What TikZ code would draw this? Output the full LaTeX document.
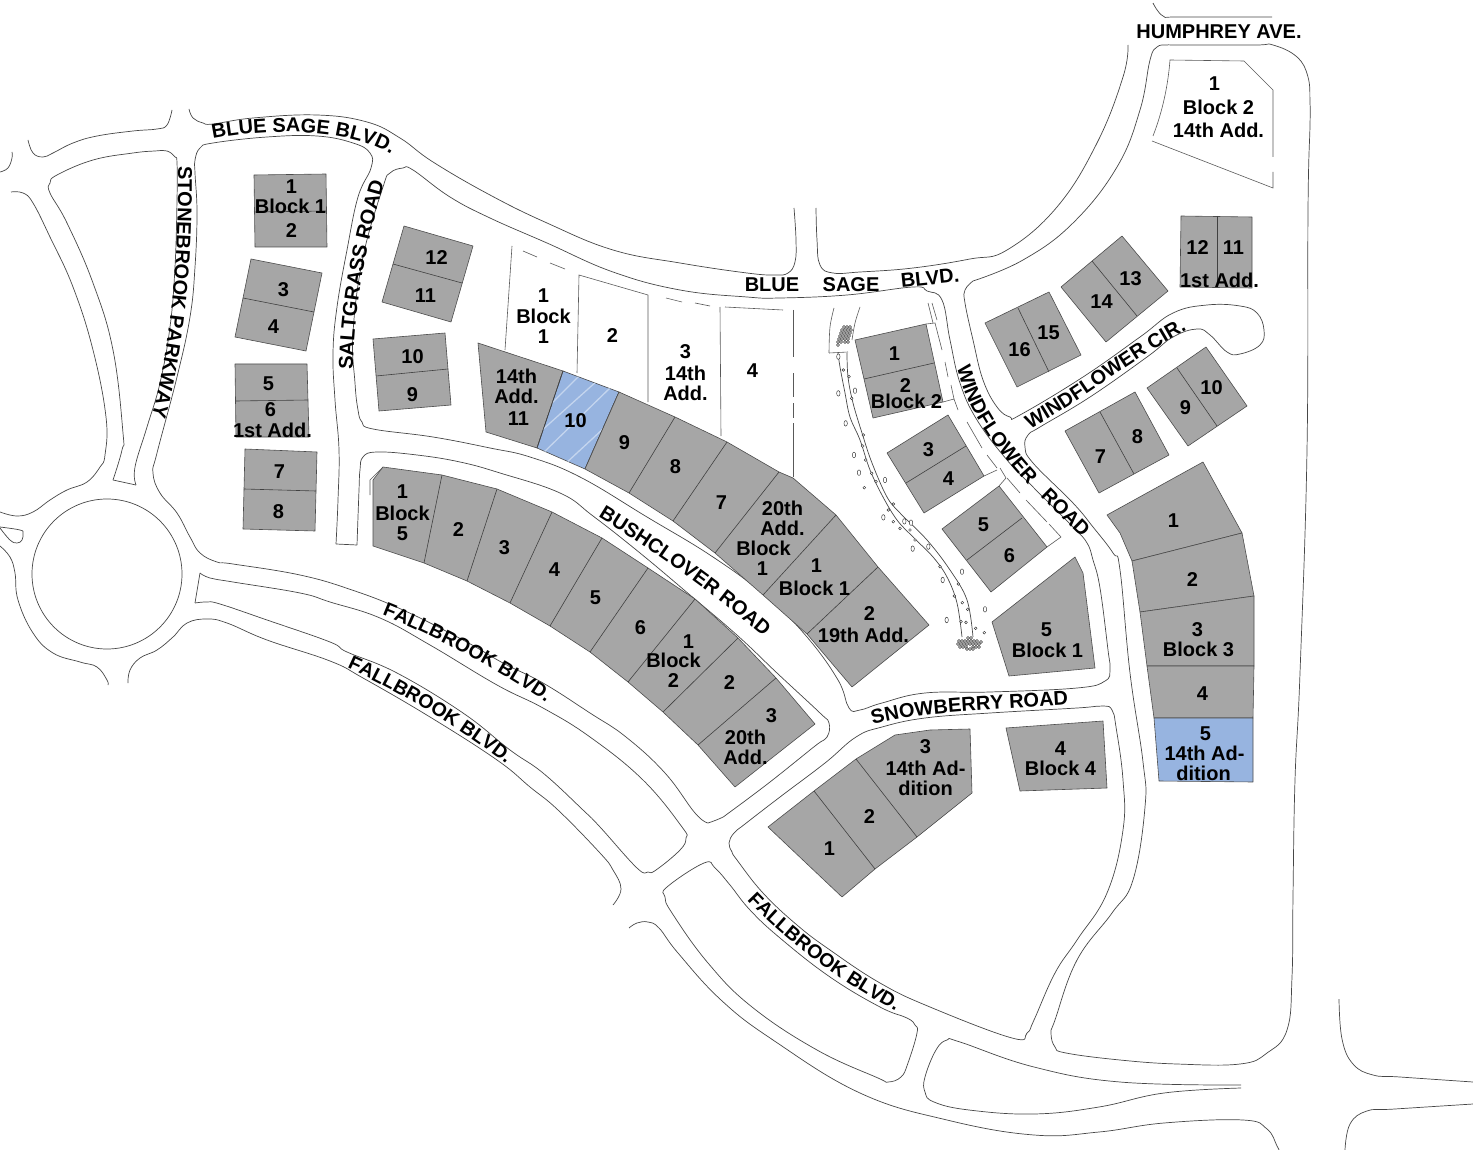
\documentclass[tikz,border=0pt]{standalone}
\usepackage{fontspec}
\setmainfont{Liberation Sans}
\usetikzlibrary{decorations.text}
\definecolor{lotgray}{HTML}{A6A6A6}
\definecolor{lotblue}{HTML}{97B4E0}
\definecolor{hatchblue}{HTML}{C4D5EE}
\newcounter{lb}
\tikzset{
  road/.style={draw=black!72,line width=0.7pt,line join=round},
  lotfill/.style={fill=lotgray,draw=black!70,line width=0.6pt,line join=round},
  bluefill/.style={fill=lotblue,draw=black!70,line width=0.6pt,line join=round},
  divider/.style={draw=black!75,line width=0.6pt},
  thinline/.style={draw=black!65,line width=0.6pt},
  lbl/.style={font=\bfseries\fontsize{20}{20.8}\selectfont,align=center,inner sep=0pt,text=black,yshift=-1pt,xshift=.5pt},
  rdlbl/.style={font=\bfseries\fontsize{20}{20}\selectfont,inner sep=0pt,text=black},
  pebble/.style={draw=black!80,line width=0.45pt,fill=white}
}
\newcommand\rd[1]{\draw[road] plot[smooth,tension=.7] coordinates {#1};}
\newcommand\lab[2]{\stepcounter{lb}\node[lbl] (lb\arabic{lb}) at (#1) {#2};}
\newcommand\rdtext[3]{\path[decorate,decoration={text along path,text={|\bfseries\fontsize{#1}{#1}\selectfont|#2}}] #3;}
\begin{document}
\begin{tikzpicture}[x=1pt,y=-1pt]
\useasboundingbox (0,0) rectangle (1473,1150);
% ---------- roads
\rd{(12,152)(12,158)(8,168)(0,172)}
\rd{(28,140)(33,153)(43,157)(53,153)(73,143)(97,136)(133,131)(157,129)(167,125)(172,110)}
\rd{(189,109)(193,118)(203,123)(213,124)(253,118)(317,115)(367,122)(400,138)(433,162)(490,195)(547,223)(613,250)(680,263)(747,273)(775,275)(788,273)(795,262)(796,240)(794,208)}
\rd{(816,208)(817,240)(820,265)(833,273)(860,272)(913,268)(970,259)(1007,250)(1057,207)(1097,143)(1123,77)(1128,45)}
\rd{(1153,3)(1163,16)(1180,17)(1272,17)}
% Stonebrook west block
\rd{(136,485)(135,467)(147,427)(160,383)(170,327)(175,267)(177,200)(177,163)(175,157)(167,151)(155,151)(133,153)(93,160)(57,175)(50,183)(50,193)(67,223)(93,283)(113,350)(123,433)(122,450)(113,480)}
\draw[road] (113,480) -- (136,485);
\rd{(11,192)(23,193)(33,203)(50,237)(73,287)(93,350)(106,417)(105,455)(100,467)(87,482)(67,490)(50,500)(33,512)(17,516)(0,512)}
\rd{(0,527)(20,530)(23,533)(22,540)(17,543)(10,540)(0,528)}
\rd{(0,546)(10,557)(15,573)(18,600)(33,633)(53,653)(80,662)(97,667)(107,680)(108,685)}
\draw[road] (107,574) circle [radius=75];
\rd{(128,683)(130,670)(140,658)(157,650)(173,637)(187,623)(207,619)(227,623)(267,640)(330,661)(363,678)(430,717)(497,760)(530,787)(558,810)(600,853)(613,870)(621,889)(613,905)}
% Main west: Fallbrook top, Stonebrook east, Blue Sage south, Saltgrass west
\rd{(708,823)(695,813)(665,773)(626,737)(590,713)(543,683)(503,663)(463,640)(403,610)(352,590)(300,575)(233,564)(217,562)(200,553)(190,537)(177,513)(160,493)(153,473)(157,453)(177,377)(190,317)(195,267)(197,213)(195,173)(195,160)(200,148)(213,143)(267,137)(317,136)(353,143)(370,153)(371,168)(358,197)(347,250)(337,307)(333,353)(335,400)(339,450)(338,500)(336,544)}
\draw[road] (336,544) -- (357,545);
\rd{(357,545)(359,490)(360,470)(363,457)(377,452)(417,455)(460,462)(500,473)(560,493)(593,516)(640,553)(690,595)(738,636)(777,673)(820,713)(829,723)(827,737)(815,746)(770,782)(730,812)(721,818)(708,823)}
% Fallbrook island
\draw[road] (195,603) -- (200,573);
\rd{(200,573)(210,578)(233,582)(300,593)(330,602)(380,618)(430,645)(497,685)(543,708)(590,737)(643,780)(682,827)(686,838)(680,850)(656,870)(648,872)(637,868)(600,827)(583,810)(543,773)(510,750)(463,713)(397,673)(347,652)(330,642)(267,620)(220,604)(207,602)(195,603)}
% Big central block
\draw[road] plot[smooth cycle,tension=.7] coordinates {(383,187)(363,257)(353,333)(355,383)(358,410)(362,422)(373,429)(433,437)(490,448)(530,457)(580,477)(647,517)(713,557)(767,597)(807,637)(838,680)(849,708)(860,710)(882,703)(925,693)(990,692)(1077,688)(1105,681)(1110,669)(1108,650)(1100,588)(1093,560)(1087,543)(1073,527)(1033,487)(1007,460)(977,420)(960,383)(950,340)(942,300)(927,291)(913,287)(847,295)(780,298)(747,297)(680,290)(613,272)(547,243)(490,218)(450,197)(413,170)(403,168)(390,173)};
% Snowberry south block
\draw[road] plot[smooth cycle,tension=.7] coordinates {(1116,727)(1112,710)(1103,706)(1077,708)(990,713)(925,718)(882,727)(856,737)(825,763)(780,797)(745,824)(734,833)(729,843)(732,852)(737,860)(763,893)(797,925)(830,950)(880,983)(930,1007)(1012,1038)(1027,1033)(1034,1020)(1055,973)(1077,940)(1107,893)(1123,830)(1123,780)};
% Fallbrook south island
\draw[road] plot[smooth cycle,tension=.7] coordinates {(704,863)(715,868)(730,885)(750,910)(780,938)(830,977)(880,1007)(907,1018)(915,1025)(917,1033)(908,1063)(901,1077)(888,1082)(878,1078)(817,1050)(752,1007)(708,963)(672,913)(665,897)(667,887)};
\rd{(629,928)(637,923)(648,922)(659,928)(678,953)(721,1000)(773,1040)(860,1093)(947,1120)(1034,1135)(1099,1132)(1164,1123)(1243,1120)(1267,1129)(1277,1146)(1279,1150)}
\rd{(1241,1085)(1120,1082)(1034,1067)(960,1042)(947,1040)(936,1050)(925,1077)(925,1092)(934,1102)(969,1110)(1034,1114)(1099,1107)(1164,1093)(1241,1088)}
% East road loop: Windflower east, Windflower Cir, Blue Sage
\rd{(973,281)(965,290)(965,303)(973,340)(983,380)(997,407)(1010,417)(1020,415)(1083,377)(1140,337)(1173,313)(1207,305)(1240,306)(1257,313)(1264,330)(1260,345)(1240,354)(1227,352)(1210,335)(1197,329)(1173,337)(1147,357)(1090,397)(1040,427)(1028,435)(1025,447)(1033,463)(1073,503)(1093,527)(1113,553)(1120,570)(1130,673)(1143,762)(1145,807)(1133,880)(1112,913)(1077,960)(1055,1020)(1051,1033)(1055,1047)(1066,1053)(1120,1060)(1177,1064)(1240,1064)(1267,1053)(1287,1030)(1292,977)(1293,896)(1295,780)(1300,673)(1307,450)(1308,210)(1310,125)(1310,103)(1308,77)(1297,57)(1273,45)(1255,45)(1180,45)(1167,45)(1157,47)(1150,60)(1140,110)(1117,167)(1073,223)(1023,260)(973,281)}
\rd{(1339,999)(1342,1039)(1353,1064)(1373,1075)(1400,1077)(1473,1082)}
\rd{(1345,1150)(1350,1124)(1367,1111)(1395,1109)(1473,1104)}
% ---------- gray lots
\filldraw[lotfill] (254,175)--(326,174)--(327,247)--(255,247)--cycle;
\draw[divider] (254,212)--(326,211);
\filldraw[lotfill] (251,259)--(322,273)--(306,351)--(235,337)--cycle;
\draw[divider] (243,298)--(314,312);
\filldraw[lotfill] (235,364)--(307,364)--(309,437)--(236,437)--cycle;
\draw[divider] (236,401)--(308,400);
\filldraw[lotfill] (245,449)--(317,452)--(315,531)--(243,529)--cycle;
\draw[divider] (244,489)--(316,491);
\filldraw[lotfill] (404,226)--(473,246)--(451,322)--(382,302)--cycle;
\draw[divider] (393,264)--(462,283);
\filldraw[lotfill] (373,339)--(445,333)--(451,405)--(379,411)--cycle;
\draw[divider] (376,376)--(448,369);
\filldraw[lotfill] (478,343)--(563,371)--(537,448)--(486,432)--cycle;
% blue hatched lot 10
\filldraw[bluefill] (563,371)--(619,392)--(585,469)--(537,448)--cycle;
\begin{scope}
\clip (563,371)--(619,392)--(585,469)--(537,448)--cycle;
\draw[hatchblue,line width=1.3pt] (550,405)--(580,375) (540,432)--(597,381) (540,456)--(611,387) (564,465)--(618,415);
\end{scope}
\draw[divider] (563,371)--(537,448) (619,392)--(585,469);
% central arc block
\filldraw[lotfill] (619,392)--(675,417)--(727,442)--(779,472)--(793,478)--(836,515)--(878,567)--(929,625)--(852,687)--(807,634)--(763,595)--(715,553)--(673,521)--(629,493)--(585,469)--cycle;
\draw[divider] (675,417)--(629,493) (727,442)--(673,521) (779,472)--(715,553) (836,515)--(763,595) (878,567)--(807,634);
% Bushclover arc block
\draw[thinline] (383,467)--(370,480)--(370,495);
\filldraw[lotfill] (373,480)--(383,467)--(442,475)--(497,489)--(552,512)--(602,538)--(648,568)--(695,599)--(738,638)--(776,678)--(815,724)--(735,787)--(698,745)--(663,712)--(628,682)--(590,652)--(550,626)--(510,603)--(467,581)--(424,563)--(373,546)--cycle;
\draw[divider] (442,475)--(424,563) (497,489)--(467,581) (552,512)--(510,603) (602,538)--(550,626) (648,568)--(590,652) (695,599)--(628,682) (738,638)--(663,712) (776,678)--(698,745);
% Snowberry lots
\filldraw[lotfill] (970,729)--(972,793)--(917,837)--(875,869)--(842,897)--(768,827)--(814,791)--(856,759)--(895,735)--(930,730)--cycle;
\draw[divider] (814,791)--(875,869) (856,759)--(917,837);
\filldraw[lotfill] (1006,728)--(1103,721)--(1107,788)--(1020,791)--cycle;
\filldraw[lotfill] (1075,557)--(1083,573)--(1095,668)--(1009,676)--(992,622)--cycle;
% Windflower west lots
\filldraw[lotfill] (855,340)--(926,324)--(943,402)--(873,418)--cycle;
\draw[divider] (864,379)--(934,363);
\filldraw[lotfill] (887,453)--(948,415)--(984,476)--(924,513)--cycle;
\draw[divider] (906,483)--(966,446);
\filldraw[lotfill] (942,529)--(999,486)--(1047,547)--(991,592)--cycle;
\draw[divider] (967,560)--(1022,518);
% Windflower east lots
\filldraw[lotfill] (985,323)--(1049,292)--(1081,355)--(1017,387)--cycle;
\draw[divider] (1018,308)--(1049,372);
\filldraw[lotfill] (1061,287)--(1122,236)--(1168,291)--(1106,342)--cycle;
\draw[divider] (1092,261)--(1137,316);
\filldraw[lotfill] (1181,216)--(1252,217)--(1252,288)--(1180,287)--cycle;
\draw[divider] (1217,216)--(1217,287);
\filldraw[lotfill] (1065,431)--(1135,392)--(1169,455)--(1099,493)--cycle;
\draw[divider] (1100,412)--(1134,474);
\filldraw[lotfill] (1147,388)--(1206,347)--(1247,406)--(1188,446)--cycle;
\draw[divider] (1177,368)--(1217,426);
% Block 3
\filldraw[lotfill] (1107,515)--(1203,462)--(1242,533)--(1132,561)--(1120,533)--cycle;
\filldraw[lotfill] (1132,561)--(1242,533)--(1254,596)--(1140,612)--cycle;
\filldraw[lotfill] (1140,612)--(1254,596)--(1254,666)--(1147,666)--cycle;
\filldraw[lotfill] (1147,666)--(1254,666)--(1253,718)--(1154,718)--cycle;
\filldraw[bluefill] (1154,718)--(1253,718)--(1253,782)--(1159,781)--cycle;
% ---------- white parcels
\draw[thinline] (512,246)--(505,350);
\draw[thinline] (523,251)--(537,257) (550,263)--(565,269);
\draw[thinline] (577,373)--(579,275)--(648,295)--(648,402);
\draw[thinline] (666,298)--(682,302) (695,303)--(710,306);
\draw[thinline] (720,307)--(721,436);
\draw[thinline] (725,307)--(783,310);
\draw[thinline] (793,310)--(793,357) (793,373)--(793,397) (793,403)--(793,418) (793,423)--(793,477);
% Humphrey lot
\draw[thinline] (1153,136) .. controls (1163,110) and (1168,85) .. (1170,60) -- (1244,61) -- (1273,90) -- (1273,157);
\draw[thinline] (1273,172)--(1273,188)--(1152,141);
% Windflower west parcel lines
\draw[thinline] (926,324)--(935,323)--(942,350);
\draw[thinline] (945,362)--(948,377) (951,385)--(954,399);
\draw[thinline] (943,402)--(954,399)--(958,410);
\draw[thinline] (928,303)--(933,323) (932,303)--(937,320);
\draw[thinline] (967,422)--(982,448) (987,455)--(997,468);
\draw[thinline] (984,476)--(997,470) (1000,468)--(1006,478)--(999,486);
\draw[thinline] (1007,478)--(1020,493) (1026,500)--(1047,522) (1049,524)--(1061,537)--(1047,547);
% ---------- creek
\draw[thinline] plot[smooth,tension=.6] coordinates {(834,308)(830,327)(829,353)};
\draw[thinline] (829,353)--(848,352);
\draw[thinline] plot[smooth,tension=.6] coordinates {(860,307)(855,323)(852,340)};
\draw[road] plot[smooth,tension=.6] coordinates {(838,353)(840,367)(845,393)(850,417)(860,440)(870,470)(883,497)(897,520)(913,537)(933,557)(947,577)(957,603)(962,637)};
\draw[road] plot[smooth,tension=.6] coordinates {(847,353)(848,377)(853,403)(862,433)(872,463)(887,497)(900,513)(927,540)(950,570)(967,600)(973,637)};
\foreach \a/\b in {115/280,137/370,162/465,177/518,250/652,338/746,428/840,440/960,555/928,486/815,255/540,333/668,313/664,385/740,165/272,115/170}
  \draw[pebble] ({800+\a/3},{300+\b/3}) ellipse [x radius=1.7,y radius=2.8];
\foreach \a/\b in {193/563,280/612,155/295,130/210,190/405,188/438,197/480,215/520,228/545,265/630,280/665,300/685,330/690,345/720,420/800,475/852,463/888,487/908,503/928,483/965,498/967,527/985,553/998,147/230}
  \draw[pebble] ({800+\a/3},{300+\b/3}) circle [radius=1.4];
% stipple clusters
\foreach \a/\b in {847/327,844/327,850/327,842/330,845/330,848/330,851/330,841/333,844/333,847/333,850/333,840/336,843/336,846/336,849/336,839/339,842/339,845/339,848/339,838/342,841/342,845/342,848/342,838/345}
  \draw[pebble] (\a,\b) circle [radius=1.5];
\foreach \a/\b in {968/638,971/638,965/641,968/641,971/641,974/641,977/641,959/641,962/641,958/644,961/644,964/644,967/644,970/644,973/644,976/644,979/644,981/642,960/647,963/647,966/647,973/647,976/647,979/647,967/649,970/649,973/649}
  \draw[pebble] (\a,\b) circle [radius=1.5];
% ---------- lot labels
\lab{291,186}{1} \lab{290,205}{Block 1} \lab{291,230}{2}
\lab{283,289}{3} \lab{273,326}{4} \lab{268,383}{5} \lab{270,409}{6} \lab{272,429}{1st Add.}
\lab{279,471}{7} \lab{278,511}{8}
\lab{436,257}{12} \lab{425,295}{11} \lab{412,356}{10} \lab{412,394}{9}
\lab{516,375}{14th} \lab{516,395}{Add.} \lab{518,418}{11}
\lab{543,295}{1} \lab{543,315}{Block} \lab{543,336}{1}
\lab{612,335}{2}
\lab{685,351}{3} \lab{685,372}{14th} \lab{685,392}{Add.}
\lab{752,370}{4}
\lab{575,420}{10} \lab{624,442}{9} \lab{675,466}{8} \lab{721,502}{7}
\lab{782,507}{20th} \lab{782,527}{Add.} \lab{763,547}{Block} \lab{762,568}{1}
\lab{816,565}{1} \lab{814,587}{Block 1} \lab{869,613}{2} \lab{863,634}{19th Add.}
\lab{402,491}{1} \lab{402,512}{Block} \lab{402,533}{5}
\lab{458,529}{2} \lab{504,547}{3} \lab{554,569}{4} \lab{595,597}{5} \lab{640,627}{6}
\lab{688,641}{1} \lab{673,659}{Block} \lab{673,680}{2}
\lab{729,682}{2} \lab{771,715}{3} \lab{745,736}{20th} \lab{745,756}{Add.}
\lab{925,746}{3} \lab{925,767}{14th Ad-} \lab{925,787}{dition}
\lab{869,816}{2} \lab{829,848}{1}
\lab{1060,748}{4} \lab{1060,767}{Block 4}
\lab{1046,629}{5} \lab{1047,649}{Block 1}
\lab{894,353}{1} \lab{905,385}{2} \lab{906,400}{Block 2}
\lab{928,449}{3} \lab{948,478}{4} \lab{983,524}{5} \lab{1009,555}{6}
\lab{1019,349}{16} \lab{1048,332}{15} \lab{1101,301}{14} \lab{1130,278}{13}
\lab{1197,247}{12} \lab{1233,247}{11} \lab{1219,279}{1st Add.}
\lab{1100,456}{7} \lab{1137,436}{8} \lab{1185,407}{9} \lab{1211,387}{10}
\lab{1214,83}{1} \lab{1218,106}{Block 2} \lab{1218,129}{14th Add.}
\lab{1173,520}{1} \lab{1192,579}{2} \lab{1197,629}{3} \lab{1198,648}{Block 3}
\lab{1202,693}{4} \lab{1205,733}{5} \lab{1204,752}{14th Ad-} \lab{1203,772}{dition}
% ---------- road labels
\node[rdlbl] (humphrey) at (1219,32) {HUMPHREY AVE.};
\node[rdlbl] (bsa) at (772,285) {BLUE};
\node[rdlbl] (bsb) at (851,285) {SAGE};
\node[rdlbl,rotate=6] (bsc) at (930,278) {BLVD.};
\rdtext{20}{BLUE SAGE BLVD.}{(213,139) .. controls (261,129) and (344,126) .. (392,155) -- (430,180)}
\rdtext{20}{STONEBROOK PARKWAY}{(178,166) .. controls (179,250) and (172,340) .. (152,415) -- (135,450)}
\rdtext{20.3}{SALTGRASS ROAD}{(353,370) .. controls (354,300) and (368,240) .. (383,187) -- (400,150)}
\rdtext{20}{WINDFLOWER}{(957,367) .. controls (968,415) and (998,452) .. (1030,487) -- (1060,525)}
\rdtext{20}{ROAD}{(1040,496) -- (1110,565)}
\rdtext{20}{WINDFLOWER CIR.}{(1030,429) .. controls (1083,400) and (1133,358) .. (1191,328) -- (1225,318)}
\rdtext{19.5}{FALLBROOK BLVD.}{(382,615) .. controls (435,636) and (495,668) .. (548,704) -- (590,735)}
\rdtext{19.5}{FALLBROOK BLVD.}{(347,668) .. controls (400,692) and (460,728) .. (510,767) -- (550,800)}
\rdtext{20}{BUSHCLOVER ROAD}{(598,517) .. controls (660,555) and (715,595) .. (768,640) -- (800,670)}
\rdtext{20}{SNOWBERRY ROAD}{(873,725) .. controls (915,712) and (990,710) .. (1070,705) -- (1110,703)}
\rdtext{19.5}{FALLBROOK BLVD.}{(747,900) .. controls (785,940) and (840,982) .. (897,1012) -- (940,1035)}
\end{tikzpicture}
\end{document}
